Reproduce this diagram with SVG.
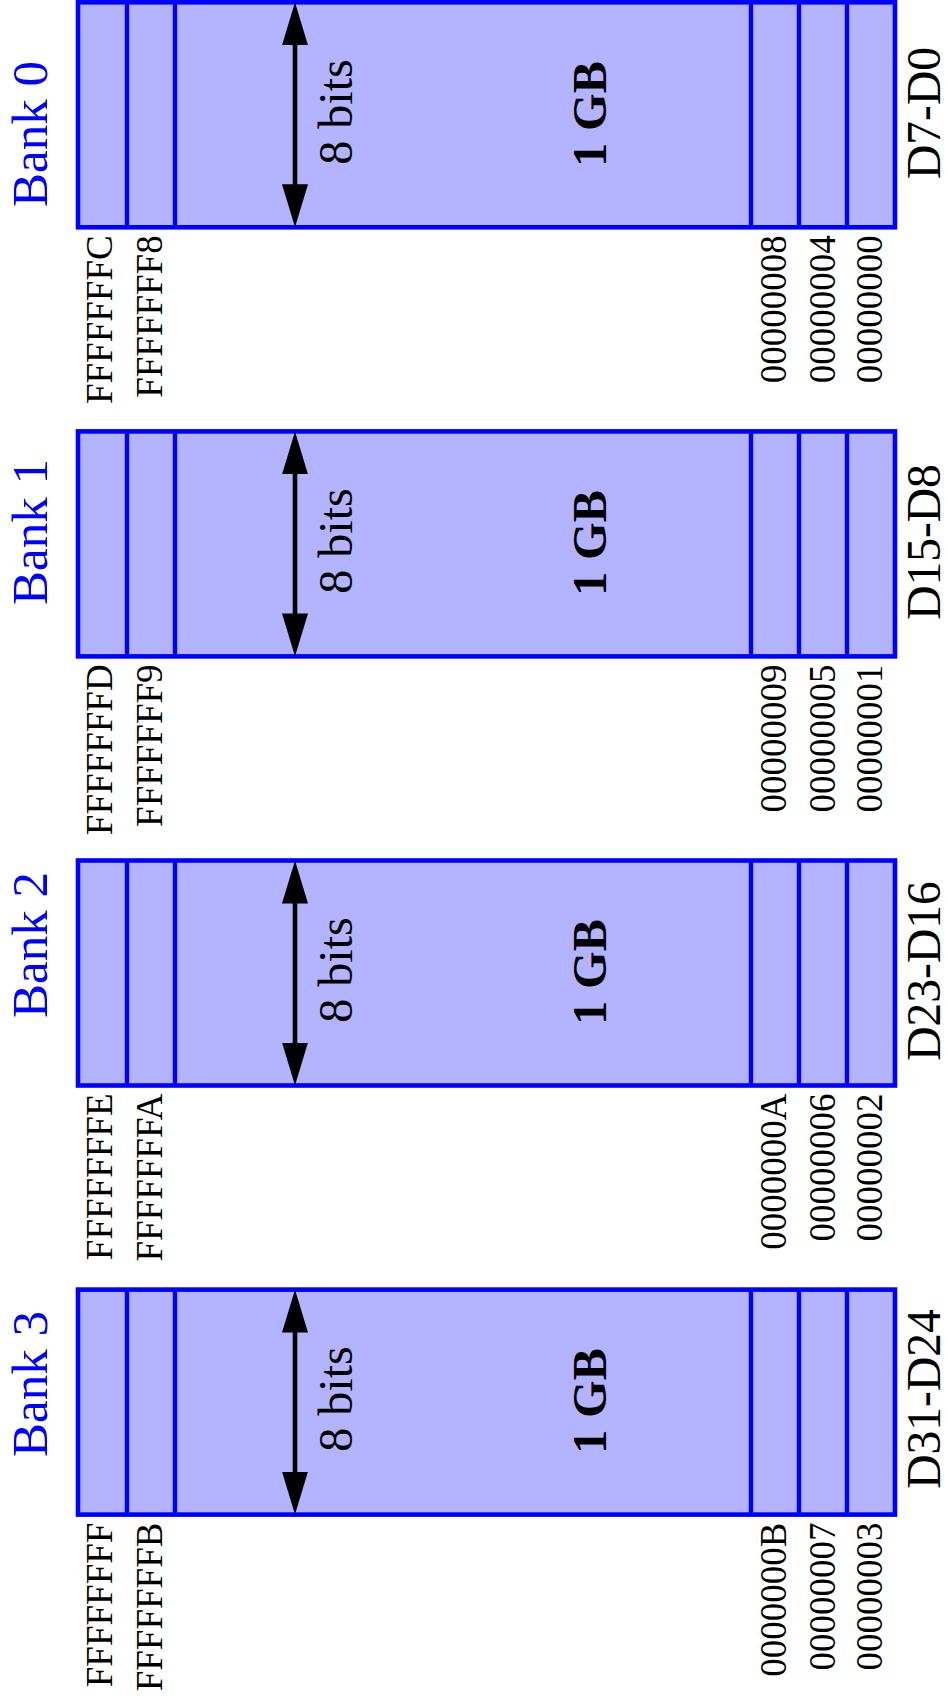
<svg xmlns="http://www.w3.org/2000/svg" width="948" height="1707" viewBox="0 0 948 1707">
<style>
.cell{fill:#B3B3FF;stroke:#0000FF;stroke-width:4.6}
.div{stroke:#0000FF;stroke-width:4.4}
.bank{font-family:"Liberation Serif",serif;font-size:51px;fill:#0000FF;text-anchor:middle}
.bits{font-family:"Liberation Serif",serif;font-size:48px;fill:#000;text-anchor:middle}
.gb{font-family:"Liberation Serif",serif;font-size:48px;font-weight:bold;fill:#000;text-anchor:middle}
.dl{font-family:"Liberation Serif",serif;font-size:47.5px;fill:#000;text-anchor:middle}
.addr{font-family:"Liberation Serif",serif;font-size:37px;fill:#000;text-anchor:end}
.arr{stroke:#000;stroke-width:4.6;marker-start:url(#ah);marker-end:url(#ah)}
</style>
<defs>
<marker id="ah" viewBox="0 0 43 26" refX="3" refY="13" markerWidth="43" markerHeight="26" markerUnits="userSpaceOnUse" orient="auto-start-reverse">
<path d="M0,0 L43,13 L0,26 z" fill="#000"/>
</marker>
</defs>

<g id="bank0">
<rect class="cell" x="78" y="2.3" width="817" height="225"/>
<path class="div" d="M127,2.3V227.3M175,2.3V227.3M751,2.3V227.3M799,2.3V227.3M847,2.3V227.3"/>
<text class="bank" transform="translate(47,134) rotate(-90)">Bank 0</text>
<text class="bits" transform="translate(352,112) rotate(-90)">8 bits</text>
<text class="gb" transform="translate(606,114) rotate(-90)">1 GB</text>
<text class="dl" transform="translate(940,113) rotate(-90)">D7-D0</text>
<text class="addr" transform="translate(112,235.3) rotate(-90)">FFFFFFFC</text>
<text class="addr" transform="translate(162,235.3) rotate(-90)">FFFFFFF8</text>
<text class="addr" transform="translate(786,235.3) rotate(-90)">00000008</text>
<text class="addr" transform="translate(834.5,235.3) rotate(-90)">00000004</text>
<text class="addr" transform="translate(882,235.3) rotate(-90)">00000000</text>
</g>

<g id="bank1">
<rect class="cell" x="78" y="431.4" width="817" height="225"/>
<path class="div" d="M127,431.4V656.4M175,431.4V656.4M751,431.4V656.4M799,431.4V656.4M847,431.4V656.4"/>
<text class="bank" transform="translate(47,532) rotate(-90)">Bank 1</text>
<text class="bits" transform="translate(352,541) rotate(-90)">8 bits</text>
<text class="gb" transform="translate(606,543) rotate(-90)">1 GB</text>
<text class="dl" transform="translate(940,542) rotate(-90)">D15-D8</text>
<text class="addr" transform="translate(112,664.4) rotate(-90)">FFFFFFFD</text>
<text class="addr" transform="translate(162,664.4) rotate(-90)">FFFFFFF9</text>
<text class="addr" transform="translate(786,664.4) rotate(-90)">00000009</text>
<text class="addr" transform="translate(834.5,664.4) rotate(-90)">00000005</text>
<text class="addr" transform="translate(882,664.4) rotate(-90)">00000001</text>
</g>

<g id="bank2">
<rect class="cell" x="78" y="860.5" width="817" height="225"/>
<path class="div" d="M127,860.5V1085.5M175,860.5V1085.5M751,860.5V1085.5M799,860.5V1085.5M847,860.5V1085.5"/>
<text class="bank" transform="translate(47,945) rotate(-90)">Bank 2</text>
<text class="bits" transform="translate(352,970) rotate(-90)">8 bits</text>
<text class="gb" transform="translate(606,972) rotate(-90)">1 GB</text>
<text class="dl" transform="translate(940,971) rotate(-90)">D23-D16</text>
<text class="addr" transform="translate(112,1093.5) rotate(-90)">FFFFFFFE</text>
<text class="addr" transform="translate(162,1093.5) rotate(-90)">FFFFFFFA</text>
<text class="addr" transform="translate(786,1093.5) rotate(-90)">0000000A</text>
<text class="addr" transform="translate(834.5,1093.5) rotate(-90)">00000006</text>
<text class="addr" transform="translate(882,1093.5) rotate(-90)">00000002</text>
</g>

<g id="bank3">
<rect class="cell" x="78" y="1289.6" width="817" height="225"/>
<path class="div" d="M127,1289.6V1514.6M175,1289.6V1514.6M751,1289.6V1514.6M799,1289.6V1514.6M847,1289.6V1514.6"/>
<text class="bank" transform="translate(47,1384) rotate(-90)">Bank 3</text>
<text class="bits" transform="translate(352,1399) rotate(-90)">8 bits</text>
<text class="gb" transform="translate(606,1401) rotate(-90)">1 GB</text>
<text class="dl" transform="translate(940,1399) rotate(-90)">D31-D24</text>
<text class="addr" transform="translate(112,1522.6) rotate(-90)">FFFFFFFF</text>
<text class="addr" transform="translate(162,1522.6) rotate(-90)">FFFFFFFB</text>
<text class="addr" transform="translate(786,1522.6) rotate(-90)">0000000B</text>
<text class="addr" transform="translate(834.5,1522.6) rotate(-90)">00000007</text>
<text class="addr" transform="translate(882,1522.6) rotate(-90)">00000003</text>
</g>

<g id="connectors">
<line class="arr" x1="295" y1="42.3" x2="295" y2="187.3"/>
<line class="arr" x1="295" y1="471.4" x2="295" y2="616.4"/>
<line class="arr" x1="295" y1="900.5" x2="295" y2="1045.5"/>
<line class="arr" x1="295" y1="1329.6" x2="295" y2="1474.6"/>
</g>
</svg>
